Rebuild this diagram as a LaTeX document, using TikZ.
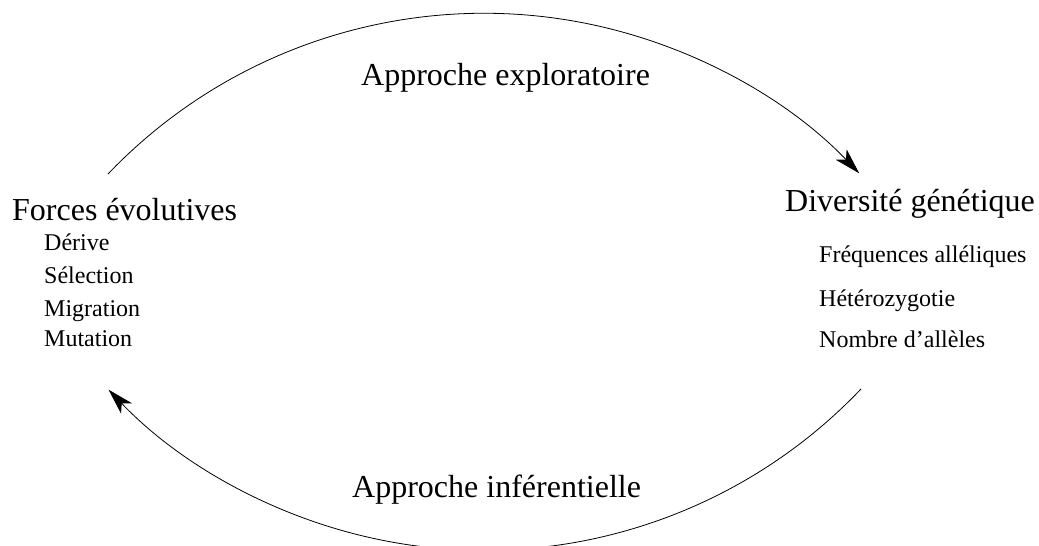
\documentclass[tikz,border=0pt]{standalone}
\usepackage{fontspec}
\setmainfont{Liberation Serif}
\usetikzlibrary{arrows.meta}
\tikzset{
  title/.style={anchor=base west, inner sep=0pt, font=\fontsize{32}{38}\selectfont},
  item/.style={anchor=base west, inner sep=0pt, font=\fontsize{24}{29}\selectfont},
  cycle/.style={line width=0.8pt, -{Stealth[length=26pt,width=15pt,inset=7pt]}},
}
\begin{document}
\begin{tikzpicture}[x=1pt,y=1pt]
\useasboundingbox (0,0) rectangle (1039,546);
\clip (0,0) rectangle (1039,546);
% left block
\node[title] (forces) at (12,325) {Forces évolutives};
\node[item] (derive) at (44,295) {Dérive};
\node[item] (selection) at (44,262) {Sélection};
\node[item] (migration) at (44,229) {Migration};
\node[item] (mutation) at (44,199) {Mutation};
% right block
\node[title] (diversite) at (785,334) {Diversité génétique};
\node[item] (freq) at (819,283) {Fréquences alléliques};
\node[item] (hetero) at (819,239) {Hétérozygotie};
\node[item] (nombre) at (819,198) {Nombre d'allèles};
% arc labels
\node[title] (explo) at (361,460) {Approche exploratoire};
\node[title] (infer) at (352,48) {Approche inférentielle};
% arc end points
\coordinate (topstart) at (108,372);
\coordinate (botstart) at (861,157);
\draw[cycle] (topstart) arc[start angle=136.3, end angle=43.8, radius=520];
\draw[cycle] (botstart) arc[start angle=-43.6, end angle=-136.3, radius=520];
\end{tikzpicture}
\end{document}
